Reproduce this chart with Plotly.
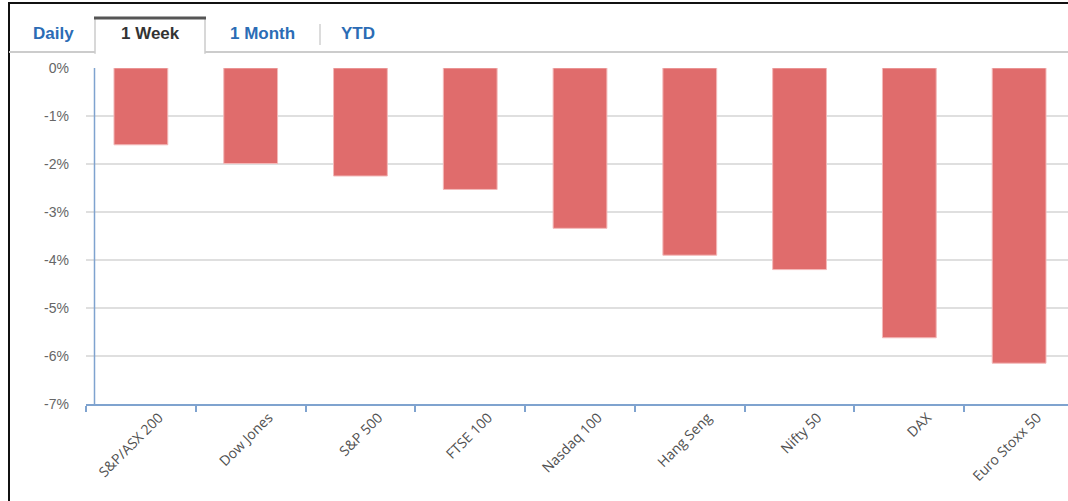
import plotly.graph_objects as go

# ---- data ----
categories = ["S&P/ASX 200", "Dow Jones", "S&P 500", "FTSE 100", "Nasdaq 100",
              "Hang Seng", "Nifty 50", "DAX", "Euro Stoxx 50"]
week_change = [-1.60, -1.99, -2.25, -2.53, -3.34, -3.90, -4.20, -5.62, -6.15]
y_tick_values = [0, -1, -2, -3, -4, -5, -6, -7]
y_tick_labels = ["0%", "-1%", "-2%", "-3%", "-4%", "-5%", "-6%", "-7%"]
tab_labels = ["Daily", "1 Week", "1 Month", "YTD"]

W, H = 1068, 501
ML, MR, MT, MB = 86, 0, 68, 97
PW, PH = W - ML - MR, H - MT - MB


def px(x):
    return (x - ML) / PW


def py(y):
    return (H - MB - y) / PH


fig = go.Figure()
fig.add_trace(go.Bar(
    x=categories, y=week_change,
    marker=dict(color="#e06c6c", line=dict(color="#f3b9b9", width=1)),
    width=0.49, hoverinfo="x+y",
))

shapes = []
# outer frame (top and left)
shapes.append(dict(type="line", xref="paper", yref="paper", x0=px(8), x1=px(W + 5),
                   y0=py(3), y1=py(3), line=dict(color="#111111", width=2)))
shapes.append(dict(type="line", xref="paper", yref="paper", x0=px(9), x1=px(9),
                   y0=py(2), y1=py(H + 5), line=dict(color="#111111", width=2)))
# tab bar baseline
shapes.append(dict(type="line", xref="paper", yref="paper", x0=px(9), x1=px(W + 5),
                   y0=py(52), y1=py(52), line=dict(color="#cccccc", width=2)))
# selected tab box
shapes.append(dict(type="rect", xref="paper", yref="paper", x0=px(95), x1=px(205),
                   y0=py(53), y1=py(18), fillcolor="white",
                   line=dict(color="#cccccc", width=1.5)))
shapes.append(dict(type="line", xref="paper", yref="paper", x0=px(95.8), x1=px(204.2),
                   y0=py(53), y1=py(53), line=dict(color="white", width=2)))
shapes.append(dict(type="line", xref="paper", yref="paper", x0=px(94), x1=px(206),
                   y0=py(18), y1=py(18), line=dict(color="#555555", width=3)))
# separator between "1 Month" and "YTD"
shapes.append(dict(type="line", xref="paper", yref="paper", x0=px(320), x1=px(320),
                   y0=py(24), y1=py(45), line=dict(color="#d0d0d0", width=1.5)))
# y axis line (offset from plot left like the reference)
shapes.append(dict(type="line", xref="paper", yref="paper", x0=px(94.5), x1=px(94.5),
                   y0=0, y1=1, line=dict(color="#7fa3cf", width=1.5)))

annotations = []
tab_x = [53, 150, 262, 358]
tab_colors = ["#2b6cb5", "#333333", "#2b6cb5", "#2b6cb5"]
for lab, x, c in zip(tab_labels, tab_x, tab_colors):
    annotations.append(dict(text="<b>%s</b>" % lab, xref="paper", yref="paper",
                            x=px(x), y=py(34), xanchor="center", yanchor="middle",
                            showarrow=False,
                            font=dict(family="Liberation Sans, Arial", size=17, color=c)))

fig.update_layout(
    width=W, height=H,
    margin=dict(l=ML, r=MR, t=MT, b=MB, pad=0),
    paper_bgcolor="white", plot_bgcolor="white",
    showlegend=False,
    shapes=shapes, annotations=annotations,
    xaxis=dict(
        type="category",
        range=[-0.5, 8.5 - 6 / 109.75],
        tickson="boundaries",
        ticks="outside", ticklen=6, tickwidth=1.5, tickcolor="#7fa3cf",
        showline=True, linecolor="#7fa3cf", linewidth=2,
        showgrid=False,
        tickangle=-45,
        ticklabelshift=18,
        ticklabelstandoff=-2,
        tickfont=dict(family="Open Sans, Liberation Sans", size=14, color="#505050"),
        fixedrange=True,
    ),
    yaxis=dict(
        range=[-7, 0],
        tickmode="array", tickvals=y_tick_values, ticktext=y_tick_labels,
        showgrid=True, gridcolor="#dfdfdf", gridwidth=1.5,
        zeroline=False, showline=False,
        ticks="", ticklabelstandoff=16,
        tickfont=dict(family="Liberation Sans, Arial", size=14, color="#666666"),
        fixedrange=True,
    ),
)

fig.write_html("out.html", config={"displayModeBar": False},
               post_script="document.body.style.margin='0';document.body.style.overflow='hidden';")
